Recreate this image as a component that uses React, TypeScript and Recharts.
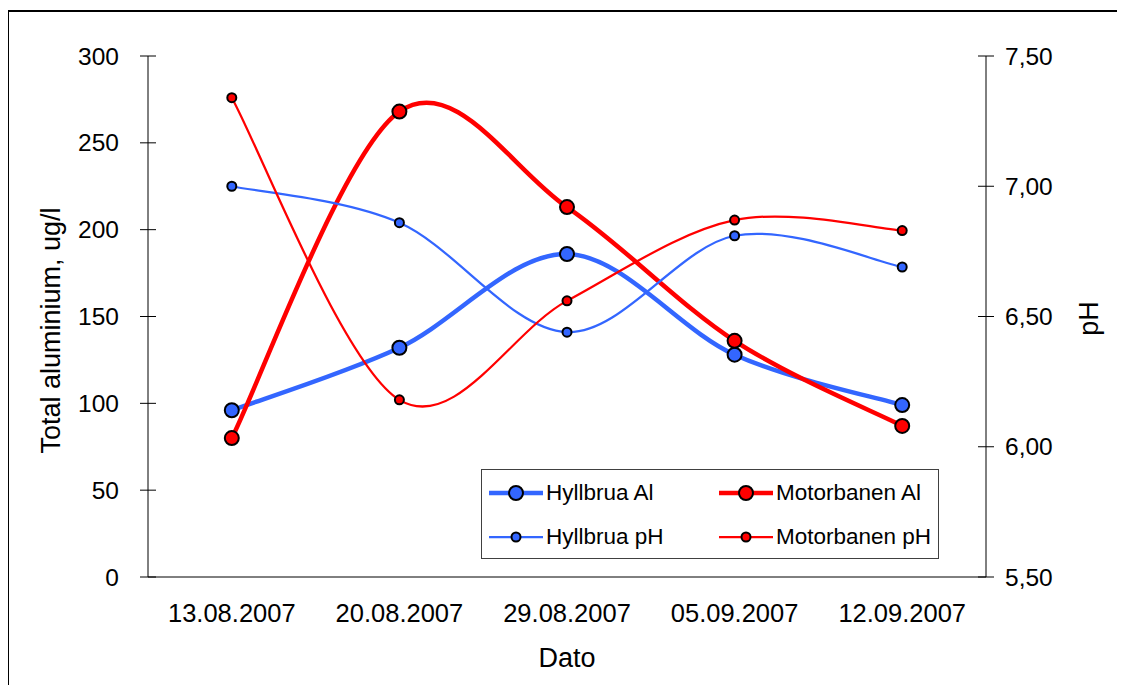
import React from 'react';
import { ComposedChart, Line, XAxis, YAxis, Legend, Label } from 'recharts';

const dates = ['13.08.2007', '20.08.2007', '29.08.2007', '05.09.2007', '12.09.2007'];
const hyllbruaAl = [96, 132, 186, 128, 99];
const motorbanenAl = [80, 268, 213, 136, 87];
const hyllbruaPh = [7.0, 6.86, 6.44, 6.81, 6.69];
const motorbanenPh = [7.34, 6.18, 6.56, 6.87, 6.83];

const leftTicks = [0, 50, 100, 150, 200, 250, 300];
const rightTicks = [5.5, 6.0, 6.5, 7.0, 7.5];
const bandEdges = [0, 1, 2, 3, 4, 5];

const BLUE = '#3366FF';
const RED = '#FF0000';
const FONT = '"Liberation Sans", Arial, sans-serif';

const data = dates.map((d, i) => ({
  date: d,
  hAl: hyllbruaAl[i],
  mAl: motorbanenAl[i],
  hPh: hyllbruaPh[i],
  mPh: motorbanenPh[i],
}));

const series = [
  { key: 'hAl', name: 'Hyllbrua Al', color: BLUE, axis: 'left', width: 4.5, r: 7 },
  { key: 'mAl', name: 'Motorbanen Al', color: RED, axis: 'left', width: 4.5, r: 7 },
  { key: 'hPh', name: 'Hyllbrua pH', color: BLUE, axis: 'right', width: 2.25, r: 4.5 },
  { key: 'mPh', name: 'Motorbanen pH', color: RED, axis: 'right', width: 2.25, r: 4.5 },
];

// Excel-like smoothing curve (Bezier with 1/6 tangent control points)
const excelSmooth = (context: any) => {
  let pts: number[][] = [];
  return {
    areaStart() {},
    areaEnd() {},
    lineStart() {
      pts = [];
    },
    point(x: number, y: number) {
      pts.push([+x, +y]);
    },
    lineEnd() {
      const n = pts.length;
      if (!n) return;
      context.moveTo(pts[0][0], pts[0][1]);
      for (let i = 0; i < n - 1; i++) {
        const p0 = pts[Math.max(i - 1, 0)];
        const p1 = pts[i];
        const p2 = pts[i + 1];
        const p3 = pts[Math.min(i + 2, n - 1)];
        context.bezierCurveTo(
          p1[0] + (p2[0] - p0[0]) / 6,
          p1[1] + (p2[1] - p0[1]) / 6,
          p2[0] - (p3[0] - p1[0]) / 6,
          p2[1] - (p3[1] - p1[1]) / 6,
          p2[0],
          p2[1]
        );
      }
    },
  };
};

const LeftTick = (props: any) => {
  const { x, y, payload } = props;
  return (
    <g>
      <line x1={x} x2={x + 16} y1={y} y2={y} stroke="#000" strokeWidth={1} />
      <text x={x - 21} y={y} dy={8.5} textAnchor="end" fontSize={24.5} fill="#000" fontFamily={FONT}>
        {payload.value}
      </text>
    </g>
  );
};

const RightTick = (props: any) => {
  const { x, y, payload } = props;
  return (
    <g>
      <line x1={x - 16} x2={x} y1={y} y2={y} stroke="#000" strokeWidth={1} />
      <text x={x + 11} y={y} dy={8.5} textAnchor="start" fontSize={24.5} fill="#000" fontFamily={FONT}>
        {Number(payload.value).toFixed(2).replace('.', ',')}
      </text>
    </g>
  );
};

const BottomTick = (props: any) => {
  const { x, y, payload } = props;
  return (
    <text x={x} y={y + 45} textAnchor="middle" fontSize={25.5} fill="#000" fontFamily={FONT}>
      {payload.value}
    </text>
  );
};

const EdgeTick = (props: any) => {
  const { x, y } = props;
  return <line x1={x} x2={x} y1={y - 16} y2={y} stroke="#000" strokeWidth={1} />;
};

const LeftTitle = (props: any) => {
  const vb = props.viewBox;
  const cx = vb.x + 41;
  const cy = vb.y + vb.height / 2 + 14;
  return (
    <text
      x={cx}
      y={cy}
      transform={`rotate(-90 ${cx} ${cy})`}
      textAnchor="middle"
      dy={9.5}
      fontSize={27}
      fill="#000"
      fontFamily={FONT}
    >
      Total aluminium, ug/l
    </text>
  );
};

const RightTitle = (props: any) => {
  const vb = props.viewBox;
  const cx = vb.x + 102;
  const cy = vb.y + vb.height / 2 + 2;
  return (
    <text
      x={cx}
      y={cy}
      transform={`rotate(-90 ${cx} ${cy})`}
      textAnchor="middle"
      dy={9.5}
      fontSize={27}
      fill="#000"
      fontFamily={FONT}
    >
      pH
    </text>
  );
};

const BottomTitle = (props: any) => {
  const vb = props.viewBox;
  return (
    <text
      x={vb.x + vb.width / 2}
      y={vb.y + 90}
      textAnchor="middle"
      fontSize={27}
      fill="#000"
      fontFamily={FONT}
    >
      Dato
    </text>
  );
};

const LegendIcon = ({ color, width, r }: any) => (
  <svg width={56} height={22} style={{ display: 'block' }}>
    <line x1={1} x2={55} y1={11} y2={11} stroke={color} strokeWidth={width} />
    <circle cx={28} cy={11} r={r} fill={color} stroke="#000" strokeWidth={2} />
  </svg>
);

const renderLegend = () => {
  const pos = [
    { left: 6, top: 12 },
    { left: 236, top: 12 },
    { left: 6, top: 56 },
    { left: 236, top: 56 },
  ];
  return (
    <div
      style={{
        position: 'relative',
        width: 458,
        height: 90,
        boxSizing: 'border-box',
        border: '1.5px solid #404040',
        background: '#fff',
        fontFamily: FONT,
      }}
    >
      {series.map((s, k) => (
        <div
          key={s.key}
          style={{
            position: 'absolute',
            left: pos[k].left,
            top: pos[k].top,
            display: 'flex',
            alignItems: 'center',
            height: 22,
          }}
        >
          <LegendIcon color={s.color} width={s.width} r={s.r} />
          <span style={{ fontSize: 22.5, color: '#000', marginLeft: 2, lineHeight: '22px', whiteSpace: 'nowrap' }}>
            {s.name}
          </span>
        </div>
      ))}
    </div>
  );
};

export default function App() {
  return (
    <>
      <style>{'html,body{overflow:hidden;}'}</style>
      <div
        style={{
          position: 'relative',
          left: -1,
          top: 2,
          width: 1116,
          height: 675,
          overflow: 'hidden',
          borderLeft: '2px solid #000',
          borderTop: '2px solid #000',
          fontFamily: FONT,
          background: '#fff',
        }}
      >
        <ComposedChart
          width={1116}
          height={675}
          data={data}
          margin={{ top: 44, right: 6, bottom: 0, left: 0 }}
          style={{ fontFamily: FONT }}
        >
          <XAxis
            xAxisId="edges"
            type="number"
            domain={[0, 5]}
            ticks={bandEdges}
            allowDataOverflow
            axisLine={false}
            tickLine={false}
            tickSize={8}
            tickMargin={0}
            height={0}
            tick={<EdgeTick />}
            interval={0}
          />
          <XAxis
            xAxisId="main"
            dataKey="date"
            type="category"
            scale="band"
            axisLine={{ stroke: '#000', strokeWidth: 1 }}
            tickLine={false}
            tickSize={0}
            tickMargin={0}
            height={110}
            interval={0}
            tick={<BottomTick />}
          >
            <Label content={<BottomTitle />} />
          </XAxis>
          <YAxis
            yAxisId="left"
            orientation="left"
            domain={[0, 300]}
            ticks={leftTicks}
            width={139}
            axisLine={{ stroke: '#000', strokeWidth: 1 }}
            tickLine={false}
            tickSize={8}
            tickMargin={0}
            interval={0}
            tick={<LeftTick />}
          >
            <Label content={<LeftTitle />} />
          </YAxis>
          <YAxis
            yAxisId="right"
            orientation="right"
            domain={[5.5, 7.5]}
            ticks={rightTicks}
            width={133}
            axisLine={{ stroke: '#000', strokeWidth: 1 }}
            tickLine={false}
            tickSize={8}
            tickMargin={0}
            interval={0}
            tick={<RightTick />}
          >
            <Label content={<RightTitle />} />
          </YAxis>
          <Legend
            layout="vertical"
            align="center"
            verticalAlign="middle"
            content={renderLegend}
            wrapperStyle={{ left: 472, top: 457, width: 458, height: 90 }}
          />
          {series.map((s) => (
            <Line
              key={s.key}
              xAxisId="main"
              yAxisId={s.axis}
              dataKey={s.key}
              name={s.name}
              type={excelSmooth as any}
              stroke={s.color}
              strokeWidth={s.width}
              dot={{ r: s.r, fill: s.color, stroke: '#000', strokeWidth: 2 }}
              activeDot={false}
              isAnimationActive={false}
            />
          ))}
        </ComposedChart>
      </div>
    </>
  );
}
